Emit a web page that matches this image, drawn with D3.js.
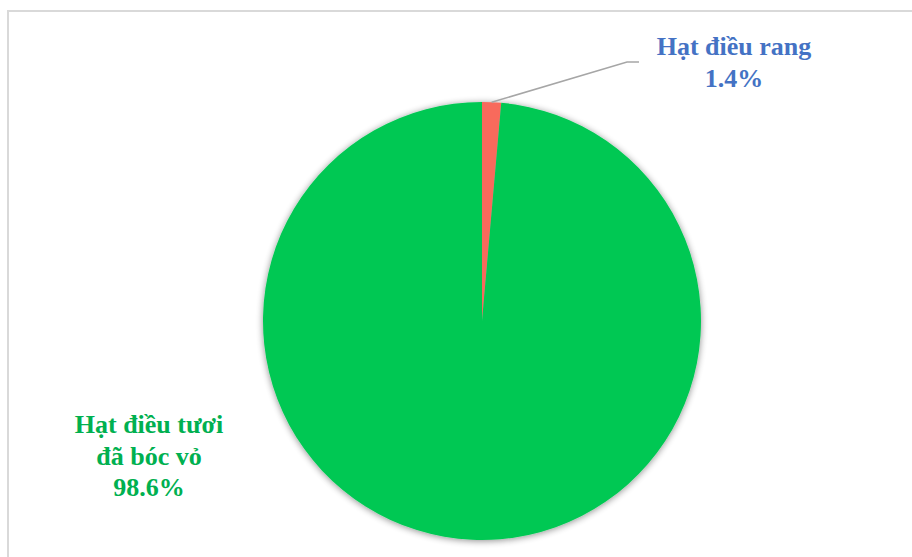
<!DOCTYPE html>
<html>
<head>
<meta charset="utf-8">
<script src="https://cdn.jsdelivr.net/npm/d3@7"></script>
<style>
  html, body { margin: 0; padding: 0; background: #fff; }
  svg { display: block; }
</style>
</head>
<body>
<svg id="chart" width="912" height="557"></svg>
<script>
// Shares of cashew export products (%)
const categories = ["Hạt điều rang", "Hạt điều tươi đã bóc vỏ"];
const values = [1.4, 98.6];
const labelLines = [["Hạt điều rang", "1.4%"], ["Hạt điều tươi", "đã bóc vỏ", "98.6%"]];
const sliceColors = ["#F86B5C", "#00C853"];
const labelColors = ["#4472C4", "#00B050"];

const svg = d3.select("#chart");
const W = 912, H = 557;
const cx = 482, cy = 321, R = 219;

// chart frame
svg.append("rect")
  .attr("x", 8).attr("y", 11)
  .attr("width", W + 10).attr("height", H + 10)
  .attr("fill", "#fff")
  .attr("stroke", "#d9d9d9").attr("stroke-width", 2);

// soft shadow beneath the pie
const defs = svg.append("defs");
const f = defs.append("filter").attr("id", "pieShadow")
  .attr("x", "-10%").attr("y", "-10%").attr("width", "120%").attr("height", "120%");
f.append("feGaussianBlur").attr("in", "SourceAlpha").attr("stdDeviation", 3.5).attr("result", "b");
f.append("feOffset").attr("in", "b").attr("dx", 0).attr("dy", 1).attr("result", "o");
f.append("feComponentTransfer").attr("in", "o").attr("result", "s")
  .append("feFuncA").attr("type", "linear").attr("slope", 0.45);
const m = f.append("feMerge");
m.append("feMergeNode").attr("in", "s");
m.append("feMergeNode").attr("in", "SourceGraphic");

const pie = d3.pie().sort(null).value(d => d)(values);
const arc = d3.arc().innerRadius(0).outerRadius(R);

const g = svg.append("g").attr("transform", `translate(${cx},${cy})`);
g.append("g").attr("filter", "url(#pieShadow)")
  .selectAll("path")
  .data(pie)
  .join("path")
  .attr("d", arc)
  .attr("fill", (d, i) => sliceColors[i]);

// leader line for the small slice
const small = pie[0];
const midA = (small.startAngle + small.endAngle) / 2;
const p0 = [cx + Math.sin(midA) * R, cy - Math.cos(midA) * R];
svg.append("polyline")
  .attr("points", [p0, [627, 62], [639, 62]].map(p => p.join(",")).join(" "))
  .attr("fill", "none")
  .attr("stroke", "#a6a6a6")
  .attr("stroke-width", 1.5);

// data labels
const labelPos = [[734, 55], [149, 433]];
labelLines.forEach((lines, i) => {
  const t = svg.append("text")
    .attr("x", labelPos[i][0]).attr("y", labelPos[i][1])
    .attr("text-anchor", "middle")
    .attr("font-family", "'Liberation Serif', 'Times New Roman', serif")
    .attr("font-weight", "bold")
    .attr("font-size", 26)
    .attr("fill", labelColors[i]);
  lines.forEach((s, j) => {
    t.append("tspan").attr("x", labelPos[i][0]).attr("dy", j === 0 ? 0 : 31.5).text(s);
  });
});
</script>
</body>
</html>
